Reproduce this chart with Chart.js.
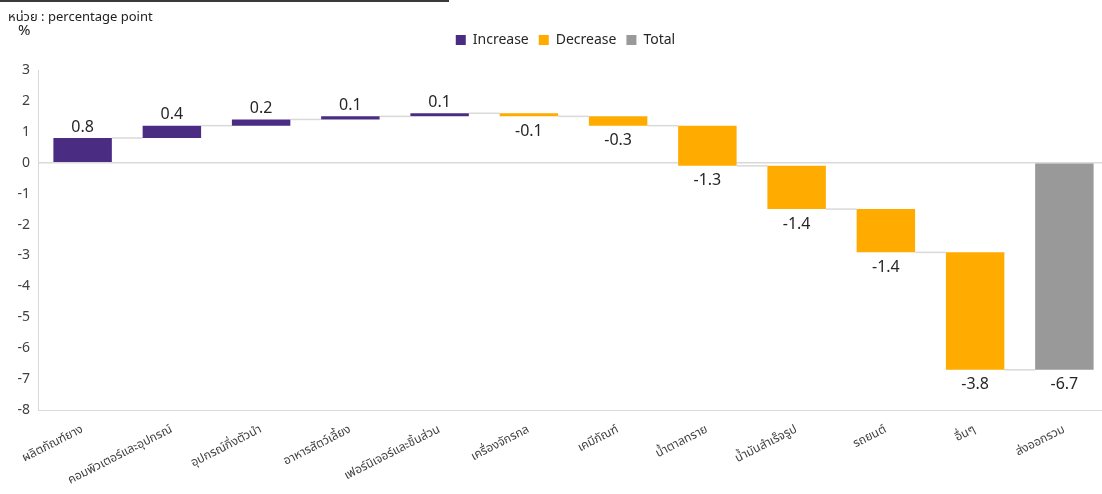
<!DOCTYPE html>
<html>
<head>
<meta charset="utf-8">
<script src="https://cdn.jsdelivr.net/npm/chart.js@4.4.0/dist/chart.umd.min.js"></script>
<style>
  html, body { margin:0; padding:0; background:#fff; overflow:hidden; width:1102px; height:494px; }
  #wrap { position:absolute; left:0; top:0; width:1110px; height:494px; }
  #topline { position:absolute; left:0; top:0; width:449px; height:2px; background:#3a3a3a; }
  #unit { position:absolute; left:8px; top:7px; font-size:13px; color:#222; font-family:"Noto Sans Thai","Noto Sans","DejaVu Sans",sans-serif; white-space:nowrap; }
  #pct { position:absolute; left:18px; top:19px; font-size:15px; color:#222; font-family:"Noto Sans","DejaVu Sans",sans-serif; }
</style>
</head>
<body>
<div id="wrap"><canvas id="c"></canvas></div>
<div id="topline"></div>
<div id="unit">หน่วย : percentage point</div>
<div id="pct">%</div>
<script>
const categories = ['ผลิตภัณฑ์ยาง','คอมพิวเตอร์และอุปกรณ์','อุปกรณ์กึ่งตัวนำ','อาหารสัตว์เลี้ยง','เฟอร์นิเจอร์และชิ้นส่วน','เครื่องจักรกล','เคมีภัณฑ์','น้ำตาลทราย','น้ำมันสำเร็จรูป','รถยนต์','อื่นๆ','ส่งออกรวม'];
const changes = [0.8, 0.4, 0.2, 0.1, 0.1, -0.1, -0.3, -1.3, -1.4, -1.4, -3.8];
const totalValue = -6.7;
const yMin = -8, yMax = 3, yStep = 1;
const seriesNames = ['Increase', 'Decrease', 'Total'];
const colors = ['#4B2C83', '#FFAB00', '#999999'];

// build floating bars from the read changes
const incData = [], decData = [], totData = [], spans = [], labelsText = [];
let run = 0;
changes.forEach(c => {
  const s = run;
  run = Math.round((run + c) * 100) / 100;
  if (c >= 0) { incData.push([s, run]); decData.push(null); }
  else { incData.push(null); decData.push([s, run]); }
  totData.push(null);
  spans.push([s, run]);
  labelsText.push(c.toFixed(1));
});
incData.push(null); decData.push(null); totData.push([0, totalValue]);
spans.push([0, totalValue]);
labelsText.push(totalValue.toFixed(1));

const BAR_PCT = 0.655;
const numFont = '"Noto Sans","DejaVu Sans",sans-serif';
const thaiFont = '"Noto Sans Thai","Noto Sans","DejaVu Sans",sans-serif';

const legendHeight = {
  id: 'legendHeight',
  beforeInit(chart) {
    const lg = chart.legend;
    if (!lg) return;
    const f = lg.fit;
    lg.fit = function () { f.call(this); this.height = 47; };
  },
  afterLayout(chart) {
    const lg = chart.legend;
    if (!lg) return;
    lg.left -= 8; lg.right -= 8;
  }
};

const connectors = {
  id: 'connectors',
  beforeDatasetsDraw(chart) {
    const xs = chart.scales.x, ys = chart.scales.y, ctx = chart.ctx;
    const step = xs.getPixelForValue(1) - xs.getPixelForValue(0);
    const hw = step * BAR_PCT / 2;
    ctx.save();
    ctx.strokeStyle = '#d9d9d9';
    ctx.lineWidth = 1.5;
    for (let i = 0; i < spans.length - 1; i++) {
      const y = ys.getPixelForValue(spans[i][1]);
      ctx.beginPath();
      ctx.moveTo(xs.getPixelForValue(i) + hw, y);
      ctx.lineTo(xs.getPixelForValue(i + 1) - hw, y);
      ctx.stroke();
    }
    ctx.restore();
  }
};

const dataLabels = {
  id: 'dataLabels',
  afterDatasetsDraw(chart) {
    const xs = chart.scales.x, ys = chart.scales.y, ctx = chart.ctx;
    ctx.save();
    ctx.font = '16px ' + numFont;
    ctx.fillStyle = '#262626';
    ctx.textAlign = 'center';
    ctx.textBaseline = 'middle';
    spans.forEach((sp, i) => {
      const hi = Math.max(sp[0], sp[1]), lo = Math.min(sp[0], sp[1]);
      const positive = sp[1] >= sp[0];
      const y = positive ? ys.getPixelForValue(hi) - 11 : ys.getPixelForValue(lo) + 15;
      ctx.fillText(labelsText[i], xs.getPixelForValue(i), y);
    });
    ctx.restore();
  }
};

new Chart(document.getElementById('c'), {
  type: 'bar',
  data: {
    labels: categories,
    datasets: [
      { label: seriesNames[0], data: incData, backgroundColor: colors[0] },
      { label: seriesNames[1], data: decData, backgroundColor: colors[1] },
      { label: seriesNames[2], data: totData, backgroundColor: colors[2] }
    ]
  },
  options: {
    responsive: true,
    maintainAspectRatio: false,
    animation: false,
    layout: { padding: { top: 23, right: 1, bottom: 0, left: 0 } },
    datasets: { bar: { grouped: false, barPercentage: BAR_PCT, categoryPercentage: 1, borderWidth: 0 } },
    plugins: {
      legend: {
        position: 'top',
        fullSize: false,
        labels: { boxWidth: 10, boxHeight: 10, padding: 10, color: '#262626', font: { size: 14, family: numFont } }
      },
      tooltip: { enabled: false }
    },
    scales: {
      x: {
        grid: { display: false, drawTicks: false },
        border: { display: true, color: '#d9d9d9', width: 1 },
        afterFit(s) { s.height = 84; },
        ticks: { autoSkip: false, maxRotation: 27, minRotation: 27, padding: 13, color: '#404040', font: { size: 12, family: thaiFont } }
      },
      y: {
        min: yMin, max: yMax,
        afterFit(s) { s.width = 38; },
        grid: { drawTicks: false, color: c => (c.tick && c.tick.value === 0) ? '#d9d9d9' : 'rgba(0,0,0,0)', lineWidth: 1.5 },
        border: { display: true, color: '#d9d9d9', width: 1 },
        ticks: { stepSize: yStep, padding: 8, color: '#404040', font: { size: 14, family: numFont } }
      }
    }
  },
  plugins: [legendHeight, connectors, dataLabels]
});
</script>
</body>
</html>
